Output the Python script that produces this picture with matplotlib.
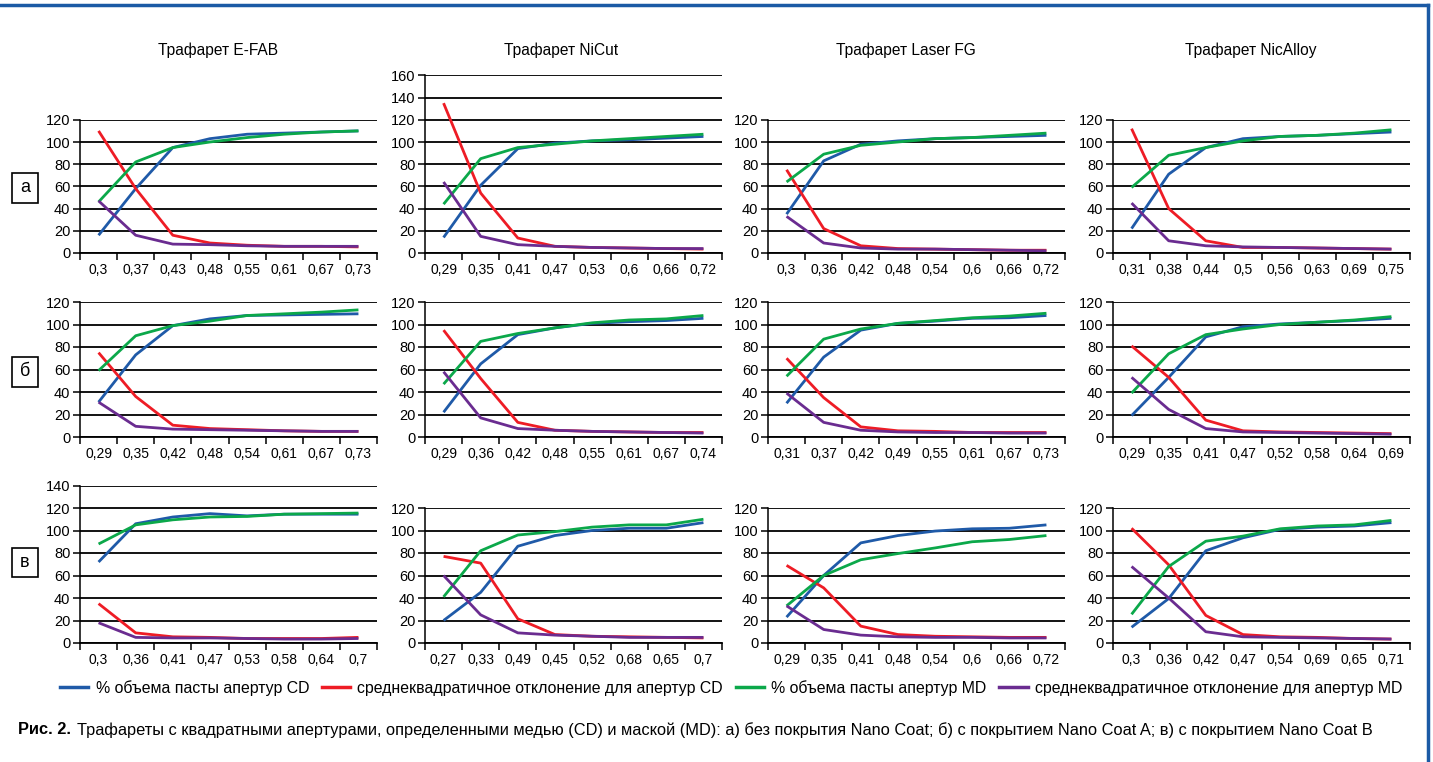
import matplotlib.pyplot as plt
from matplotlib.lines import Line2D
from matplotlib.patches import Rectangle

# stencil names (columns) and coating rows
stencils = ['Трафарет E-FAB', 'Трафарет NiCut', 'Трафарет Laser FG', 'Трафарет NicAlloy']
row_names = ['а', 'б', 'в']
series_names = ['% объема пасты апертур CD',
                'среднеквадратичное отклонение для апертур CD',
                '% объема пасты апертур MD',
                'среднеквадратичное отклонение для апертур MD']

# x tick labels, per panel
a_efab_x = ['0,3', '0,37', '0,43', '0,48', '0,55', '0,61', '0,67', '0,73']
a_nicut_x = ['0,29', '0,35', '0,41', '0,47', '0,53', '0,6', '0,66', '0,72']
a_laser_x = ['0,3', '0,36', '0,42', '0,48', '0,54', '0,6', '0,66', '0,72']
a_nicalloy_x = ['0,31', '0,38', '0,44', '0,5', '0,56', '0,63', '0,69', '0,75']
b_efab_x = ['0,29', '0,35', '0,42', '0,48', '0,54', '0,61', '0,67', '0,73']
b_nicut_x = ['0,29', '0,36', '0,42', '0,48', '0,55', '0,61', '0,67', '0,74']
b_laser_x = ['0,31', '0,37', '0,42', '0,49', '0,55', '0,61', '0,67', '0,73']
b_nicalloy_x = ['0,29', '0,35', '0,41', '0,47', '0,52', '0,58', '0,64', '0,69']
v_efab_x = ['0,3', '0,36', '0,41', '0,47', '0,53', '0,58', '0,64', '0,7']
v_nicut_x = ['0,27', '0,33', '0,49', '0,45', '0,52', '0,68', '0,65', '0,7']
v_laser_x = ['0,29', '0,35', '0,41', '0,48', '0,54', '0,6', '0,66', '0,72']
v_nicalloy_x = ['0,3', '0,36', '0,42', '0,47', '0,54', '0,69', '0,65', '0,71']

# values per panel: [CD volume, CD std, MD volume, MD std]
a_efab = [[16, 58, 95, 103, 107, 108, 109, 110],
          [110, 58, 16, 9, 7, 6, 6, 5.5],
          [46, 82, 95, 100, 104, 107, 109, 110],
          [47, 16, 8, 7.5, 6.5, 6, 6, 6]]
a_nicut = [[14, 61, 94, 99, 101, 102, 103.5, 105],
           [135, 54, 13.5, 6, 5, 4.5, 4, 3.5],
           [44, 85, 95, 98, 101, 103, 105, 107],
           [64, 15, 7.5, 6, 5, 4.5, 4, 4]]
a_laser = [[35, 83, 98, 101, 103, 104, 105, 106],
           [75, 22, 6.5, 4, 3.5, 3, 2.5, 2.5],
           [64, 89, 97, 100, 103, 104, 106, 108],
           [33, 9, 4.5, 3.5, 3.5, 3, 2.5, 2]]
a_nicalloy = [[22, 71, 95, 103, 105, 106, 107.5, 109],
              [112, 40, 11, 5, 5, 4.5, 4, 3.5],
              [59, 88, 95, 101, 105, 106, 108, 111],
              [45, 11, 6.5, 5.5, 5, 4.5, 4, 3.5]]
b_efab = [[31, 73, 99, 105, 108, 108.5, 109, 109.5],
          [75, 36, 10.5, 7.5, 6.5, 5.5, 5, 5],
          [59, 90, 99, 103, 108, 109.5, 111, 113],
          [31, 9.5, 7, 6.5, 6, 5.5, 5, 5]]
b_nicut = [[22, 65, 91, 97, 101, 102.5, 103.5, 105.5],
           [95, 52, 13, 6, 5, 4.5, 4, 4],
           [47, 85, 92, 97, 101.5, 104, 105, 108],
           [58, 17, 7.5, 6, 5, 4.5, 4, 3.5]]
b_laser = [[30, 71, 95, 101, 103, 105.5, 106, 108],
           [70, 35, 9, 5.5, 5, 4, 4, 4],
           [54, 87, 96, 101, 103.5, 106, 107.5, 110],
           [39, 13, 6, 4.5, 4, 4, 3.5, 3.5]]
b_nicalloy = [[19, 53, 89, 98, 100.5, 102, 103.5, 105.5],
              [81, 53, 15, 5.5, 4.5, 4, 3.5, 3],
              [39, 74, 91, 96, 100, 102, 104, 107],
              [53, 24.5, 7.5, 4.5, 4, 3.5, 3, 2.5]]
v_efab = [[72, 106, 112, 115, 113, 114.5, 114.5, 114.5],
          [35, 9, 5.5, 5, 4, 4, 4, 5],
          [88, 105, 109.5, 112, 112.5, 114.5, 115, 115.5],
          [18, 5, 4.5, 4.5, 4, 3.5, 3.5, 4]]
v_nicut = [[20, 45, 86, 95.5, 100, 102, 102, 107],
           [77, 71, 21.5, 7.5, 6, 5.5, 5, 4.5],
           [41, 82, 96, 99, 103, 105, 105, 110],
           [60, 25, 9, 7, 6, 5, 5, 5]]
v_laser = [[23, 60, 89, 95.5, 99.5, 101.5, 102, 105],
           [69, 49, 15, 7.5, 6, 5.5, 5, 5],
           [33, 60, 74, 79.5, 84.5, 90, 92, 95.5],
           [33, 12, 7, 5.5, 5, 5, 4.5, 4.5]]
v_nicalloy = [[14, 39.5, 82, 93.5, 101, 103, 104, 107],
              [102, 69.5, 24.5, 7.5, 5.5, 5, 4, 3.5],
              [25.5, 68, 90.5, 95, 101.5, 104, 105, 109],
              [68, 40, 10, 5.5, 5, 4.5, 4, 3.5]]

# y axis maximum per panel
a_ymax = [120, 160, 120, 120]
b_ymax = [120, 120, 120, 120]
v_ymax = [140, 120, 120, 120]

colors = ['#1f5aa8', '#ee1c25', '#0ba84a', '#6a2c90']

W, H = 1433, 762
plt.rcParams['font.family'] = ['Liberation Sans', 'DejaVu Sans']
fig = plt.figure(figsize=(W / 100, H / 100), dpi=100)

col_left = [80, 425, 768, 1113]
col_width = 297
row_zero = [253, 437, 643]
px_per_20 = [22.2, 22.5, 22.5]
title_x = [218, 561, 906, 1251]

rows = [
    ([a_efab, a_nicut, a_laser, a_nicalloy], [a_efab_x, a_nicut_x, a_laser_x, a_nicalloy_x], a_ymax),
    ([b_efab, b_nicut, b_laser, b_nicalloy], [b_efab_x, b_nicut_x, b_laser_x, b_nicalloy_x], b_ymax),
    ([v_efab, v_nicut, v_laser, v_nicalloy], [v_efab_x, v_nicut_x, v_laser_x, v_nicalloy_x], v_ymax),
]

for r, (panels, xlabels, ymaxes) in enumerate(rows):
    for c in range(4):
        ymax = ymaxes[c]
        h = ymax / 20 * px_per_20[r]
        ax = fig.add_axes([col_left[c] / W, 1 - row_zero[r] / H, col_width / W, h / H])
        xs = range(len(xlabels[c]))
        for vals, col in zip(panels[c], colors):
            ax.plot(xs, vals, color=col, lw=2.0, solid_capstyle='butt')
        ax.set_xlim(-0.5, len(xlabels[c]) - 0.5)
        ax.set_ylim(0, ymax)
        ax.set_yticks(range(0, ymax + 1, 20))
        ax.yaxis.grid(True, color='black', lw=1.3)
        ax.set_axisbelow(True)
        for s in ['top', 'right']:
            ax.spines[s].set_visible(False)
        ax.spines['left'].set_linewidth(1.1)
        ax.spines['bottom'].set_linewidth(1.3)
        # labels on category centres, tick marks between categories
        ax.set_xticks(list(xs))
        ax.set_xticklabels(xlabels[c])
        ax.set_xticks([i - 0.5 for i in range(len(xlabels[c]) + 1)], minor=True)
        ax.tick_params(axis='x', which='major', length=0, pad=7, labelsize=10)
        ax.tick_params(axis='x', which='minor', length=5, width=1.1, direction='out')
        ax.tick_params(axis='y', length=5, width=1.1, pad=2, labelsize=10.5)

for c, name in enumerate(stencils):
    fig.text(title_x[c] / W, 1 - 50 / H, name, ha='center', va='center', fontsize=11.2)

# row labels in boxes
box_y = [(173, 203), (357, 387), (548, 577)]
for name, (y0, y1) in zip(row_names, box_y):
    fig.patches.append(Rectangle((12 / W, 1 - y1 / H), 26 / W, (y1 - y0) / H,
                                 transform=fig.transFigure, fill=False, lw=1.2, ec='black'))
    fig.text(25 / W, 1 - (y0 + y1) / 2 / H, name, ha='center', va='center', fontsize=13)

# blue frame
fig.lines.append(Line2D([0, 1428 / W], [1 - 5 / H, 1 - 5 / H], transform=fig.transFigure,
                        color='#1b5aa5', lw=2.5))
fig.lines.append(Line2D([1428 / W, 1428 / W], [1 - 5 / H, 0], transform=fig.transFigure,
                        color='#1b5aa5', lw=2.5))

handles = [Line2D([], [], color=col, lw=2.5) for col in colors]
fig.legend(handles, series_names, loc='center', bbox_to_anchor=(731 / W, 1 - 688 / H),
           ncol=4, frameon=False, fontsize=11.4, handlelength=1.8, handletextpad=0.45,
           columnspacing=0.8)

# caption: bold figure number, then plain text; scaled to span the reference width
cap_rest = ('Трафареты с квадратными апертурами, определенными медью (CD) и маской (MD): '
            'а) без покрытия Nano Coat; б) с покрытием Nano Coat A; в) с покрытием Nano Coat B')
t1 = fig.text(18 / W, 1 - 730 / H, 'Рис. 2.', ha='left', va='center', fontsize=13,
              fontweight='bold')
t2 = fig.text(0, 1 - 730 / H, cap_rest, ha='left', va='center', fontsize=13)
r = fig.canvas.get_renderer()
size = 13
for _ in range(3):
    fig.canvas.draw()
    total = t1.get_window_extent(r).width + 6 + t2.get_window_extent(r).width
    size = size * (1385 - 18) / total
    t1.set_fontsize(size)
    t2.set_fontsize(size)
fig.canvas.draw()
t2.set_x((t1.get_window_extent(r).x1 + 6) / W)

fig.savefig('out.png', dpi=100)
